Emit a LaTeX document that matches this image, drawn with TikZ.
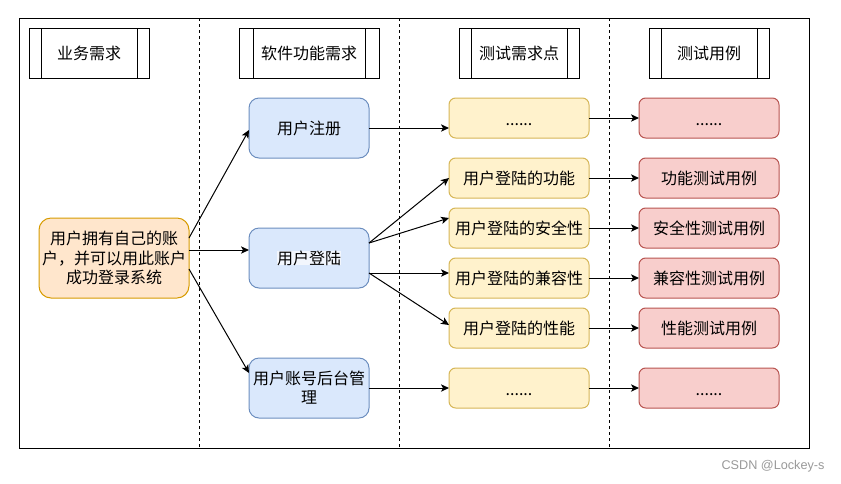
\documentclass[tikz,border=0pt]{standalone}
\usepackage{fontspec}
\setmainfont{Noto Sans CJK SC}
\newfontfamily\wmfont{Liberation Sans}
\usetikzlibrary{arrows.meta,calc}
\definecolor{orfill}{HTML}{FFE6CC}
\definecolor{ordraw}{HTML}{D79B00}
\definecolor{blfill}{HTML}{DAE8FC}
\definecolor{bldraw}{HTML}{6C8EBF}
\definecolor{yefill}{HTML}{FFF2CC}
\definecolor{yedraw}{HTML}{D6B656}
\definecolor{refill}{HTML}{F8CECC}
\definecolor{redraw}{HTML}{B85450}
\definecolor{lblbg}{HTML}{F2F6FD}
\newcommand{\lowdots}{\strut\raisebox{-2.5pt}{......}}
\begin{document}
\begin{tikzpicture}[x=0.75pt,y=-0.75pt,
  every node/.style={outer sep=0pt, inner sep=1pt},
  font=\fontsize{12pt}{14.4pt}\selectfont,
  hdr/.style={draw=black, fill=white, line width=0.75pt, minimum width=90pt, minimum height=37.5pt},
  hline/.style={line width=0.75pt},
  mainbox/.style={draw=ordraw, fill=orfill, line width=0.75pt, rounded corners=9pt, minimum width=112.5pt, minimum height=60pt, align=center},
  bluebox/.style={draw=bldraw, fill=blfill, line width=0.75pt, rounded corners=7.5pt, minimum width=90pt, minimum height=45pt, align=center},
  yelbox/.style={draw=yedraw, fill=yefill, line width=0.75pt, rounded corners=5pt, minimum width=105pt, minimum height=30pt},
  redbox/.style={draw=redraw, fill=refill, line width=0.75pt, rounded corners=5pt, minimum width=105pt, minimum height=30pt},
  sep/.style={line width=0.75pt, dash pattern=on 2.25pt off 2.25pt},
  arr/.style={line width=0.75pt, -{Stealth[length=6pt,width=5.5pt,inset=1.5pt]}}
]
\useasboundingbox (0,0) rectangle (841,483);
% frame and lane separators
\draw[line width=0.75pt] (19,18) rectangle (809,448);
\draw[sep] (199,18) -- (199,448);
\draw[sep] (399,18) -- (399,448);
\draw[sep] (609,18) -- (609,448);

% headers
\node[hdr] (h1) at (89,53) {业务需求};
\node[hdr, minimum width=105pt] (h2) at (309,53) {软件功能需求};
\node[hdr] (h3) at (519,53) {测试需求点};
\node[hdr] (h4) at (709,53) {测试用例};
\draw[hline] ([xshift=9pt]h1.north west) -- ([xshift=9pt]h1.south west);
\draw[hline] ([xshift=-9pt]h1.north east) -- ([xshift=-9pt]h1.south east);
\draw[hline] ([xshift=10.5pt]h2.north west) -- ([xshift=10.5pt]h2.south west);
\draw[hline] ([xshift=-10.5pt]h2.north east) -- ([xshift=-10.5pt]h2.south east);
\draw[hline] ([xshift=9pt]h3.north west) -- ([xshift=9pt]h3.south west);
\draw[hline] ([xshift=-9pt]h3.north east) -- ([xshift=-9pt]h3.south east);
\draw[hline] ([xshift=9pt]h4.north west) -- ([xshift=9pt]h4.south west);
\draw[hline] ([xshift=-9pt]h4.north east) -- ([xshift=-9pt]h4.south east);

% main requirement
\node[mainbox] (m) at (114,258) {用户拥有自己的账\\户，并可以用此账户\\成功登录系统};

% software functions
\node[bluebox] (b1) at (309,128) {用户注册};
\node[bluebox] (b2) at (309,258) {{\setlength{\fboxsep}{0pt}\colorbox{lblbg}{用户登陆}}};
\node[bluebox] (b3) at (309,388) {用户账号后台管\\理};

% test requirement points
\node[yelbox] (y1) at (519,118) {\lowdots};
\node[yelbox] (y2) at (519,178) {用户登陆的功能};
\node[yelbox] (y3) at (519,228) {用户登陆的安全性};
\node[yelbox] (y4) at (519,278) {用户登陆的兼容性};
\node[yelbox] (y5) at (519,328) {用户登陆的性能};
\node[yelbox] (y6) at (519,388) {\lowdots};

% test cases
\node[redbox] (r1) at (709,118) {\lowdots};
\node[redbox] (r2) at (709,178) {功能测试用例};
\node[redbox] (r3) at (709,228) {安全性测试用例};
\node[redbox] (r4) at (709,278) {兼容性测试用例};
\node[redbox] (r5) at (709,328) {性能测试用例};
\node[redbox] (r6) at (709,388) {\lowdots};

% connectors
\draw[arr] ([yshift=15pt]m.east) -- ([yshift=-1.5pt]b1.west);
\draw[arr] ([yshift=6pt]m.east) -- ([yshift=6pt]b2.west);
\draw[arr] ([yshift=-8.25pt]m.east) -- ([yshift=11.25pt]b3.west);

\draw[arr] (b1.east) -- (b1.east -| y1.west);
\coordinate (b2a) at ([yshift=11.25pt]b2.east);
\coordinate (b2b) at ([yshift=-11.25pt]b2.east);
\draw[arr] (b2a) -- (y2.west);
\draw[arr] (b2a) -- ([yshift=7.5pt]y3.west);
\draw[arr] (b2b) -- (b2b -| y4.west);
\draw[arr] (b2b) -- ([yshift=2.25pt]y5.west);
\draw[arr] (b3.east) -- (y6.west);

\draw[arr] (y1.east) -- (r1.west);
\draw[arr] (y2.east) -- (r2.west);
\draw[arr] (y3.east) -- (r3.west);
\draw[arr] (y4.east) -- (r4.west);
\draw[arr] (y5.east) -- (r5.west);
\draw[arr] (y6.east) -- (r6.west);

% watermark
\node[text=black!40, font=\wmfont\fontsize{9.5pt}{11pt}\selectfont] (wm) at (773,466) {CSDN @Lockey-s};
\end{tikzpicture}
\end{document}
